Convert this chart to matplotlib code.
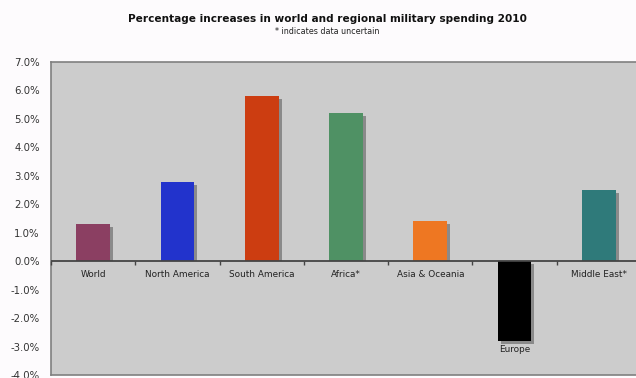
import matplotlib
matplotlib.use("Agg")
import matplotlib.pyplot as plt
from matplotlib.ticker import FuncFormatter

categories = ["World", "North America", "South America", "Africa*", "Asia & Oceania", "Europe", "Middle East*"]
values = [1.3, 2.8, 5.8, 5.2, 1.4, -2.8, 2.5]
colors = ["#8B3F62", "#2233CC", "#CC3D11", "#4F9164", "#EE7722", "#000000", "#2F7A7A"]
yticks = [7, 6, 5, 4, 3, 2, 1, 0, -1, -2, -3, -4]

W, H = 636, 378
fig = plt.figure(figsize=(W / 100, H / 100), dpi=100, facecolor="#fdfbfd")
ax = fig.add_axes([51 / W, 1 - 375 / H, 590 / W, 313 / H])
ax.set_facecolor("#cccccc")

x = list(range(len(categories)))
bw = 0.40
# shadow geometry (approx 3 px right, 3 px down)
dx = 3 / 84.3
dy = 3 / 28.45
sh_bottom = [0 if v >= 0 else -dy for v in values]
sh_height = [(v - dy) - b for v, b in zip(values, sh_bottom)]
ax.bar([i + dx for i in x], sh_height, bottom=sh_bottom, width=bw, color="#8a8a8a", zorder=2)
ax.bar(x, values, width=bw, color=colors, zorder=3)

ax.set_xlim(-0.5, len(categories) - 0.5)
ax.set_ylim(-4, 7)
ax.set_yticks(yticks)
ax.yaxis.set_major_formatter(FuncFormatter(lambda v, p: f"{v:.1f}%"))
ax.tick_params(axis="y", length=0, labelsize=7.3, colors="#333333", pad=8)
ax.set_xticks([])

ax.axhline(0, color="#444444", lw=1.3, zorder=4)
for i in range(len(categories) + 1):
    ax.plot([i - 0.5], [0], marker=3, color="#444444", ms=3, mew=1, zorder=4, clip_on=False)

for i, (c, v) in enumerate(zip(categories, values)):
    base = min(v, 0)
    off = -9.4 if v >= 0 else -6.5
    ax.annotate(c, xy=(i, base), xytext=(0, off), textcoords="offset points", ha="center", va="center",
                fontsize=6.4, color="#222222", zorder=5)

for s in ["top", "left", "bottom"]:
    ax.spines[s].set_color("#808080")
    ax.spines[s].set_linewidth(1.2)
ax.spines["right"].set_visible(False)

fig.text(327 / W, 1 - 19.5 / H, "Percentage increases in world and regional military spending 2010",
         ha="center", va="center", fontsize=7.55, fontweight="bold", color="#111111")
fig.text(327 / W, 1 - 32 / H, "* indicates data uncertain", ha="center", va="center", fontsize=5.8, color="#222222")

fig.savefig("out.png", dpi=100, facecolor=fig.get_facecolor())
